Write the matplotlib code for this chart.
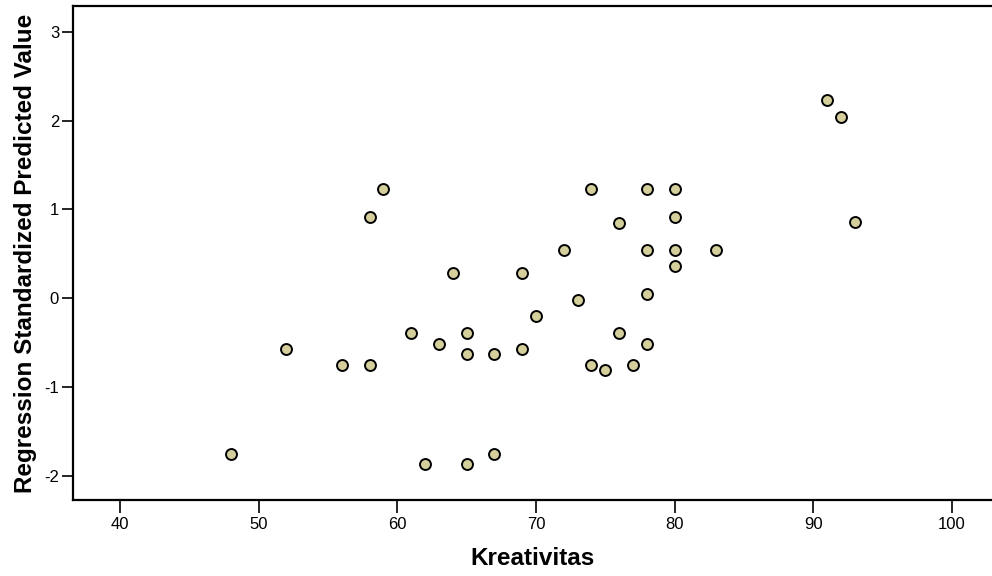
import numpy as np
import matplotlib
matplotlib.use('Agg')
import matplotlib.pyplot as plt

plt.rcParams['font.family'] = ['Liberation Sans', 'DejaVu Sans']
plt.rcParams['axes.unicode_minus'] = False

# data
kreativitas = [59, 58, 74, 78, 80, 80, 76, 72, 78, 80, 83, 80, 64, 69, 78, 73, 70,
               61, 65, 76, 63, 78, 65, 67, 69, 56, 58, 74, 75, 77, 52, 48, 62, 65,
               67, 91, 92, 93]
predicted = [1.23, 0.91, 1.23, 1.23, 1.23, 0.91, 0.85, 0.54, 0.54, 0.54, 0.54, 0.36,
             0.29, 0.29, 0.05, -0.02, -0.20, -0.39, -0.39, -0.39, -0.51, -0.51,
             -0.63, -0.63, -0.57, -0.75, -0.75, -0.75, -0.81, -0.75, -0.57, -1.75,
             -1.87, -1.87, -1.75, 2.23, 2.04, 0.86]

xticks = [40, 50, 60, 70, 80, 90, 100]
yticks = [-2, -1, 0, 1, 2, 3]

fig = plt.figure(figsize=(9.92, 5.76), dpi=100)
ax = fig.add_axes([73 / 992, 76 / 576, 1 - 73 / 992, (500 - 6) / 576])

ax.scatter(kreativitas, predicted, s=62, c='#d5cf9c', edgecolors='black',
           linewidths=1.4, zorder=3)

ax.set_xlim(36.6, 102.9)
ax.set_ylim(-2.27, 3.29)
ax.set_xticks(xticks)
ax.set_yticks(yticks)
ax.tick_params(axis='x', length=9, width=1.2, labelsize=12, pad=3)
ax.tick_params(axis='y', length=8, width=1.2, labelsize=12, pad=2)

for s in ['left', 'bottom', 'top']:
    ax.spines[s].set_linewidth(1.6)
ax.spines['right'].set_visible(False)

ax.set_xlabel('Kreativitas', fontsize=17.5, fontweight='bold', labelpad=11)
ax.set_ylabel('Regression Standardized Predicted Value', fontsize=17.5,
              fontweight='bold', labelpad=5)

fig.savefig('out.png', dpi=100)
